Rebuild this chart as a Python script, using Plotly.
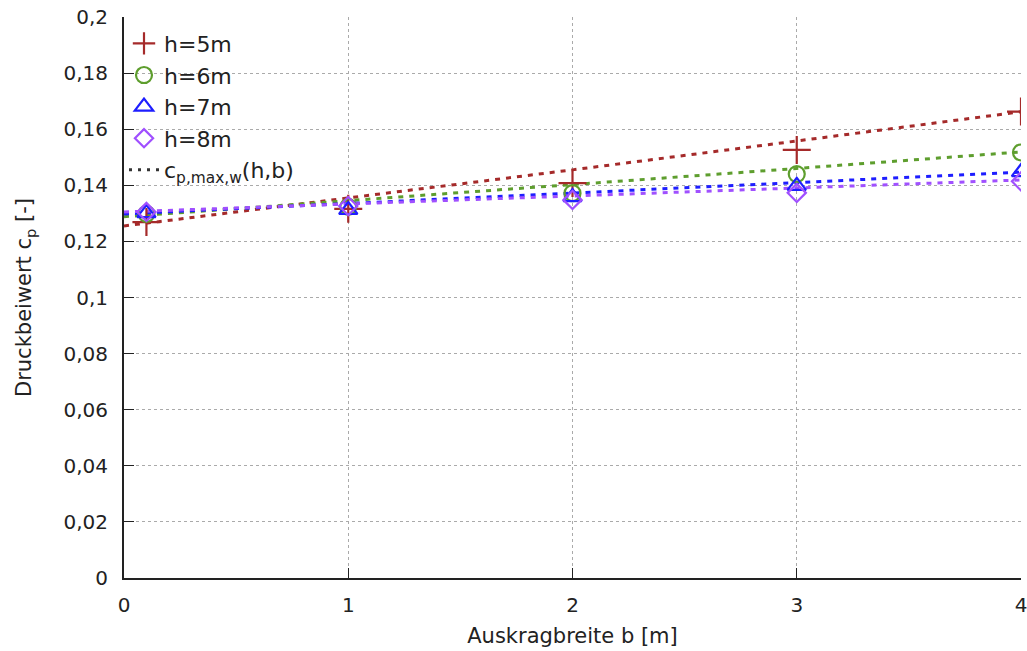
import plotly.graph_objects as go

# ---- data ----
b_points = [0.1, 1, 2, 3, 4]
cp_h5 = [0.1269, 0.1316, 0.1408, 0.1526, 0.1663]
cp_h6 = [0.1298, 0.1323, 0.1372, 0.1440, 0.1517]
cp_h7 = [0.1301, 0.1312, 0.1358, 0.1398, 0.1447]
cp_h8 = [0.1305, 0.1326, 0.1348, 0.1373, 0.1414]

b_fit = [0, 1, 2, 3, 4]
fit_h5 = [0.1255, 0.1355, 0.1455, 0.1558, 0.1662]
fit_h6 = [0.1288, 0.1345, 0.1403, 0.1460, 0.1519]
fit_h7 = [0.1298, 0.1335, 0.1372, 0.1410, 0.1447]
fit_h8 = [0.1305, 0.1333, 0.1361, 0.1390, 0.1419]

series_names = ["h=5m", "h=6m", "h=7m", "h=8m"]
fit_name = "c<sub>p,max,w</sub>(h,b)"

y_tickvals = [0, 0.02, 0.04, 0.06, 0.08, 0.1, 0.12, 0.14, 0.16, 0.18, 0.2]
y_ticktext = ["0", "0,02", "0,04", "0,06", "0,08", "0,1", "0,12", "0,14", "0,16", "0,18", "0,2"]
x_tickvals = [0, 1, 2, 3, 4]

# ---- styles ----
colors = ["#a52a2a", "#5e9e2e", "#1e1eff", "#a050ff"]
symbols = ["cross-thin-open", "circle-open", "triangle-up-open", "diamond-open"]
sizes = [20, 16, 16, 14]

fig = go.Figure()

fits = [fit_h5, fit_h6, fit_h7, fit_h8]
points = [cp_h5, cp_h6, cp_h7, cp_h8]

for fit, col in zip(fits, colors):
    fig.add_trace(go.Scatter(
        x=b_fit, y=fit, mode="lines", showlegend=False,
        line=dict(color=col, width=3, dash="5px,6px"), hoverinfo="skip"))

for name, pts, col, sym, sz in zip(series_names, points, colors, symbols, sizes):
    fig.add_trace(go.Scatter(
        x=b_points, y=pts, mode="markers", name=name,
        marker=dict(symbol=sym, size=sz, color=col,
                    line=dict(color=col, width=2.2))))

# legend-only entry for the fit curves
fig.add_trace(go.Scatter(
    x=[None], y=[None], mode="lines", name=fit_name,
    line=dict(color="#333333", width=3, dash="3px,6px")))

font_family = "DejaVu Sans, Verdana, sans-serif"

fig.update_layout(
    width=1027, height=651,
    paper_bgcolor="white", plot_bgcolor="white",
    margin=dict(l=124, r=6, t=17, b=73),
    font=dict(family=font_family, size=20, color="#222222"),
    separators=", ",
    legend=dict(x=0.0, y=0.99, xanchor="left", yanchor="top",
                bgcolor="rgba(0,0,0,0)", font=dict(size=22),
                itemwidth=30, tracegroupgap=0),
    xaxis=dict(
        range=[0, 4], tickvals=x_tickvals, ticktext=[str(v) for v in x_tickvals],
        showgrid=True, gridcolor="#aaaaaa", griddash="dot", gridwidth=1,
        showline=True, linecolor="#222222", linewidth=2,
        ticks="inside", ticklen=10, tickcolor="#222222",
        ticklabelstandoff=8, automargin=False, ticklabeloverflow="allow",
        zeroline=False,
        title=dict(text="Auskragbreite b [m]", font=dict(size=21), standoff=12),
    ),
    yaxis=dict(
        range=[0, 0.2], tickvals=y_tickvals, ticktext=y_ticktext,
        showgrid=True, gridcolor="#aaaaaa", griddash="dot", gridwidth=1,
        showline=True, linecolor="#222222", linewidth=2,
        ticks="inside", ticklen=10, tickcolor="#222222",
        ticklabelstandoff=10, automargin=False, ticklabeloverflow="allow",
        zeroline=False,
        title=dict(text="Druckbeiwert c<sub>p</sub> [-]", font=dict(size=21), standoff=26),
    ),
)

fig.write_html("out.html", config={"displayModeBar": False},
               post_script="document.body.style.margin='0';")
